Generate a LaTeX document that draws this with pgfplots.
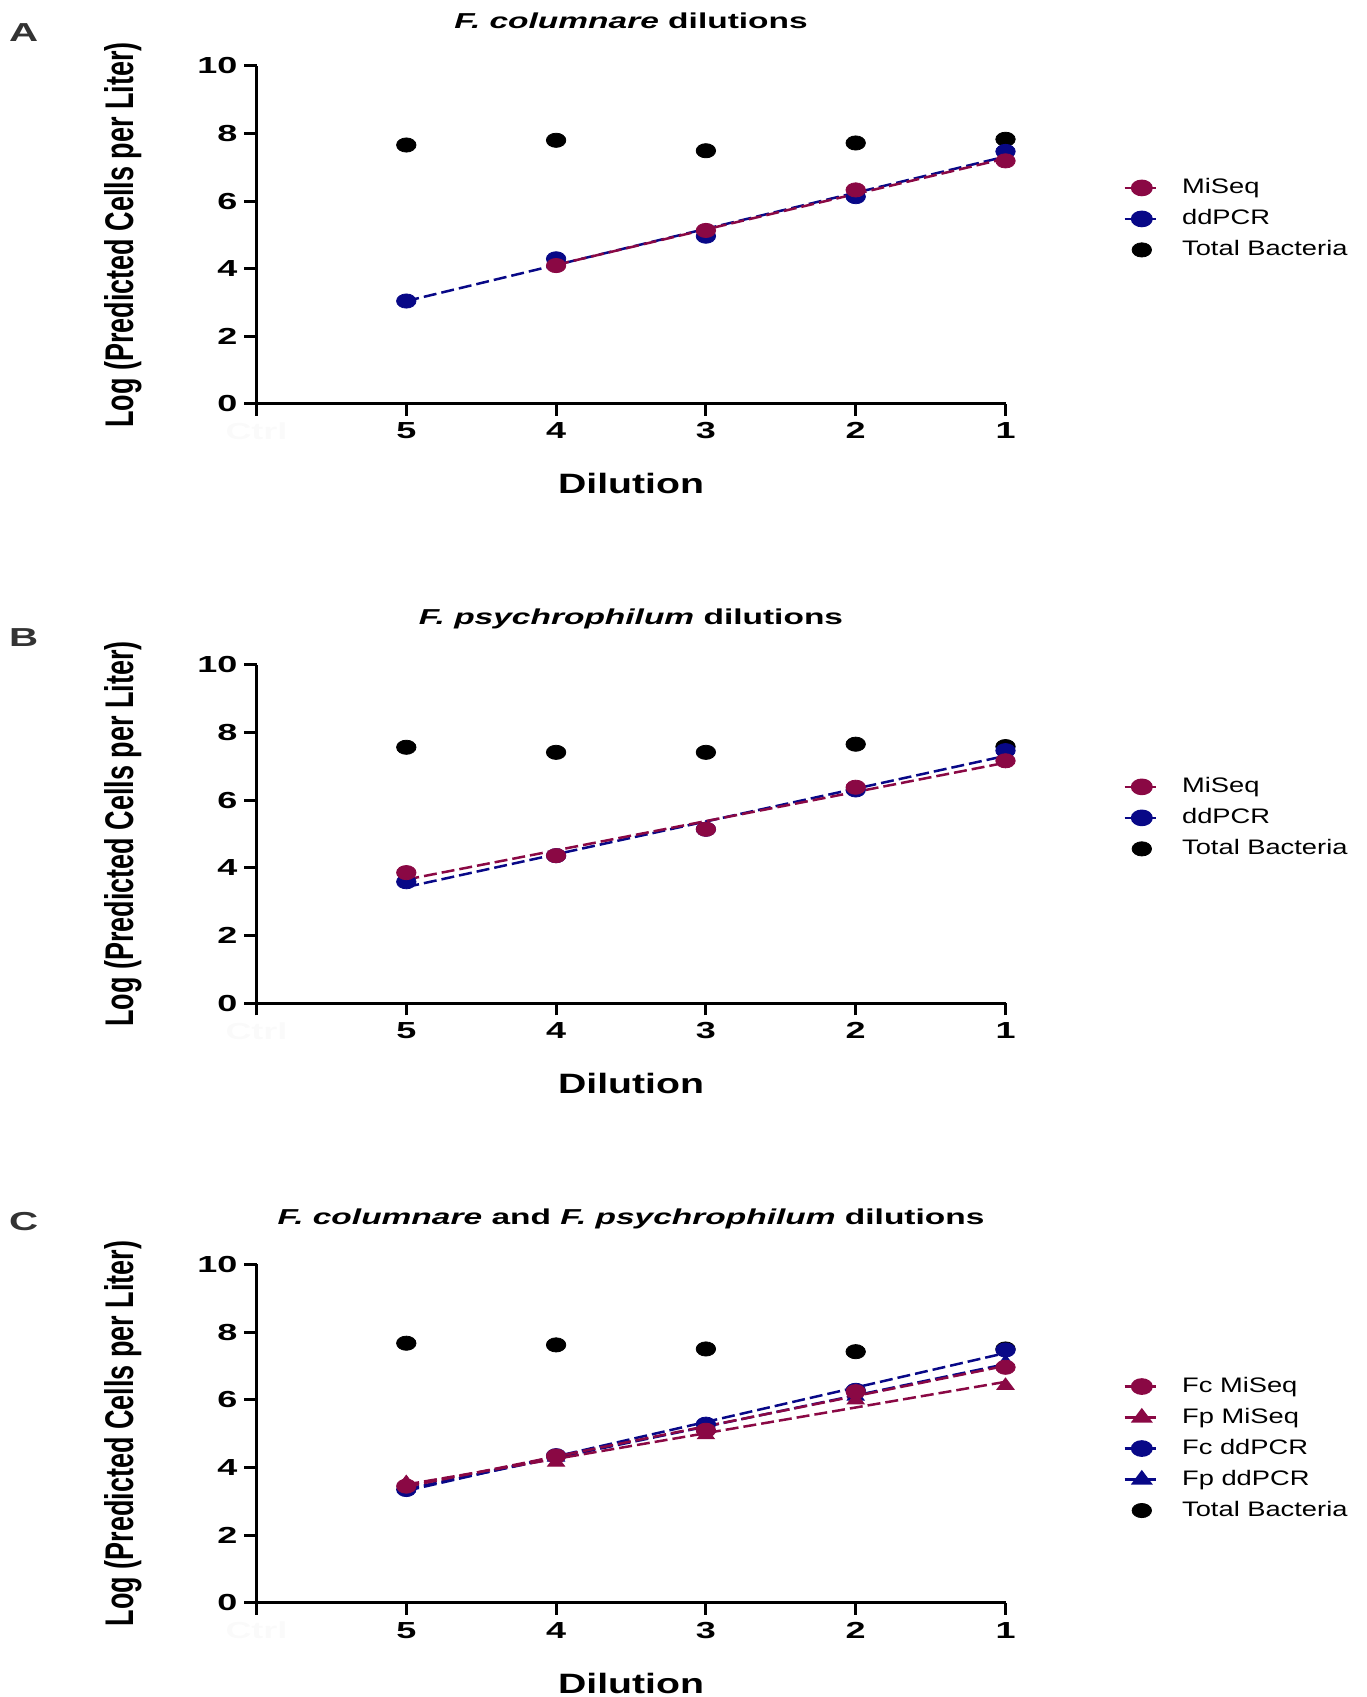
\documentclass[border=0pt]{standalone}
\usepackage{fontspec}
\setmainfont{Liberation Sans}
\newfontfamily\fTick[FakeStretch=1.55]{Liberation Sans}
\newfontfamily\fTitle[FakeStretch=1.55]{Liberation Sans}
\newfontfamily\fXlab[FakeStretch=1.4]{Liberation Sans}
\newfontfamily\fLeg[FakeStretch=1.3]{Liberation Sans}
\newfontfamily\fYlab[FakeStretch=0.675]{Liberation Sans}
\usepackage{pgfplots}
\usepackage{pgfplotstable}
\pgfplotsset{compat=1.18}
\definecolor{mred}{RGB}{138,8,68}
\definecolor{mblue}{RGB}{8,8,135}

% ---------- data (d = dilution, v = log predicted cells per liter) ----------
\pgfplotstableread{
d v
5 7.66
4 7.80
3 7.49
2 7.72
1 7.83
}\Atot
\pgfplotstableread{
d v
4 4.09
3 5.13
2 6.33
1 7.19
}\Amiseq
\pgfplotstableread{
d v
5 3.04
4 4.29
3 4.96
2 6.13
1 7.47
}\Addpcr
\pgfplotstableread{
d v
5 7.56
4 7.41
3 7.41
2 7.65
1 7.58
}\Btot
\pgfplotstableread{
d v
5 3.86
4 4.36
3 5.14
2 6.38
1 7.16
}\Bmiseq
\pgfplotstableread{
d v
5 3.59
4 4.36
3 5.14
2 6.30
1 7.46
}\Bddpcr
\pgfplotstableread{
d v
5 7.67
4 7.62
3 7.50
2 7.42
1 7.50
}\Ctot
\pgfplotstableread{
d v
5 3.45
4 4.34
3 5.10
2 6.24
1 6.96
}\CFcmiseq
\pgfplotstableread{
d v
5 3.55
4 4.15
3 4.96
2 5.99
1 6.42
}\CFpmiseq
\pgfplotstableread{
d v
5 3.35
4 4.35
3 5.28
2 6.28
1 7.47
}\CFcddpcr
\pgfplotstableread{
d v
5 3.39
4 4.30
3 5.15
2 6.10
1 7.10
}\CFpddpcr

\tikzset{letter/.style={font=\fTick\bfseries\fontsize{13}{15}\selectfont, text=black!80}}
\newcommand{\legtxt}[1]{\hspace*{8.5pt}#1}

\pgfplotsset{
  circ/.style={mark=*, mark size=3.55pt, mark options={xscale=1.37, solid}},
  tri/.style={mark=triangle*, mark size=3.8pt, mark options={xscale=1.3, solid}},
  dashes/.style={line width=1.25pt, dash pattern=on 6.5pt off 2.5pt},
  reg/.style={no marks, dashes},
  panel/.style={
    scale only axis, width=374.5pt, height=169pt,
    anchor=south west, clip=false,
    xmin=0, xmax=5, ymin=0, ymax=10,
    axis x line*=bottom, axis y line*=left,
    axis line style={-, line width=1.5pt},
    xtick={0,1,2,3,4,5}, xticklabels={\textcolor{black!2}{Ctrl},5,4,3,2,1},
    ytick={0,2,4,6,8,10}, yticklabels={0,2,4,6,8,10},
    tick align=outside, major tick length=6pt,
    tick style={line width=1.5pt, black},
    ticklabel style={font=\fTick\bfseries\fontsize{11.6}{13}\selectfont},
    every axis title shift=0pt,
    title style={font=\fTitle\bfseries\fontsize{10.8}{12}\selectfont, at={(axis description cs:0.5,1.135)}, anchor=center},
    xlabel={Dilution},
    xlabel style={font=\fXlab\bfseries\fontsize{14}{16}\selectfont, at={(axis description cs:0.5,-0.237)}, anchor=center},
    ylabel={Log (Predicted Cells per Liter)},
    ylabel style={font=\fYlab\bfseries\fontsize{20}{22}\selectfont, at={(axis description cs:-0.1776,0.5)}, anchor=center},
    legend cell align=left,
    legend style={at={(1.157,0.686)}, anchor=north west, draw=none, fill=none,
      inner sep=0pt, row sep=0pt,
      font=\fLeg\fontsize{10.5}{12}\selectfont,
      nodes={text height=8pt, text depth=2.5pt, inner sep=2.5pt}},
  },
}

\begin{document}
\begin{tikzpicture}
\path[use as bounding box] (0,0) rectangle (683pt,848.5pt);

% ---------------- Panel A ----------------
\begin{axis}[panel, at={(128.25pt,646.65pt)}, height=168.85pt,
  title={\textit{F. columnare} dilutions}]
\addplot[black, only marks, circ, forget plot] table[x expr=6-\thisrow{d}, y=v] \Atot;
\addplot[mblue, reg, forget plot] table[x expr=6-\thisrow{d}, y={create col/linear regression={x=d,y=v}}] \Addpcr;
\addplot[mred, reg, forget plot] table[x expr=6-\thisrow{d}, y={create col/linear regression={x=d,y=v}}] \Amiseq;
\addplot[mblue, only marks, circ, forget plot] table[x expr=6-\thisrow{d}, y=v] \Addpcr;
\addplot[mred, only marks, circ, forget plot] table[x expr=6-\thisrow{d}, y=v] \Amiseq;
\addlegendimage{mred, dashes, circ}
\addlegendentry{\legtxt{MiSeq}}
\addlegendimage{mblue, dashes, circ}
\addlegendentry{\legtxt{ddPCR}}
\addlegendimage{black, only marks, circ}
\addlegendentry{\legtxt{Total Bacteria}}
\node[letter] at (rel axis cs:-0.311,1.099) {A};
\end{axis}

% ---------------- Panel B ----------------
\begin{axis}[panel, at={(128.25pt,346.8pt)}, height=169.4pt,
  title={\textit{F. psychrophilum} dilutions}]
\addplot[black, only marks, circ, forget plot] table[x expr=6-\thisrow{d}, y=v] \Btot;
\addplot[mblue, reg, forget plot] table[x expr=6-\thisrow{d}, y={create col/linear regression={x=d,y=v}}] \Bddpcr;
\addplot[mred, reg, forget plot] table[x expr=6-\thisrow{d}, y={create col/linear regression={x=d,y=v}}] \Bmiseq;
\addplot[mblue, only marks, circ, forget plot] table[x expr=6-\thisrow{d}, y=v] \Bddpcr;
\addplot[mred, only marks, circ, forget plot] table[x expr=6-\thisrow{d}, y=v] \Bmiseq;
\addlegendimage{mred, dashes, circ}
\addlegendentry{\legtxt{MiSeq}}
\addlegendimage{mblue, dashes, circ}
\addlegendentry{\legtxt{ddPCR}}
\addlegendimage{black, only marks, circ}
\addlegendentry{\legtxt{Total Bacteria}}
\node[letter] at (rel axis cs:-0.311,1.080) {B};
\end{axis}

% ---------------- Panel C ----------------
\begin{axis}[panel, at={(128.25pt,47pt)}, height=169.35pt,
  title={\textit{F. columnare} and \textit{F. psychrophilum} dilutions}]
\addplot[black, only marks, circ, forget plot] table[x expr=6-\thisrow{d}, y=v] \Ctot;
\addplot[mblue, reg, forget plot] table[x expr=6-\thisrow{d}, y={create col/linear regression={x=d,y=v}}] \CFcddpcr;
\addplot[mblue, reg, forget plot] table[x expr=6-\thisrow{d}, y={create col/linear regression={x=d,y=v}}] \CFpddpcr;
\addplot[mred, reg, forget plot] table[x expr=6-\thisrow{d}, y={create col/linear regression={x=d,y=v}}] \CFcmiseq;
\addplot[mred, reg, forget plot] table[x expr=6-\thisrow{d}, y={create col/linear regression={x=d,y=v}}] \CFpmiseq;
\addplot[mblue, only marks, tri, forget plot] table[x expr=6-\thisrow{d}, y=v] \CFpddpcr;
\addplot[mblue, only marks, circ, forget plot] table[x expr=6-\thisrow{d}, y=v] \CFcddpcr;
\addplot[mred, only marks, tri, forget plot] table[x expr=6-\thisrow{d}, y=v] \CFpmiseq;
\addplot[mred, only marks, circ, forget plot] table[x expr=6-\thisrow{d}, y=v] \CFcmiseq;
\addlegendimage{mred, dashes, circ}
\addlegendentry{\legtxt{Fc MiSeq}}
\addlegendimage{mred, dashes, tri}
\addlegendentry{\legtxt{Fp MiSeq}}
\addlegendimage{mblue, dashes, circ}
\addlegendentry{\legtxt{Fc ddPCR}}
\addlegendimage{mblue, dashes, tri}
\addlegendentry{\legtxt{Fp ddPCR}}
\addlegendimage{black, only marks, circ}
\addlegendentry{\legtxt{Total Bacteria}}
\node[letter] at (rel axis cs:-0.311,1.125) {C};
\end{axis}
\end{tikzpicture}
\end{document}
